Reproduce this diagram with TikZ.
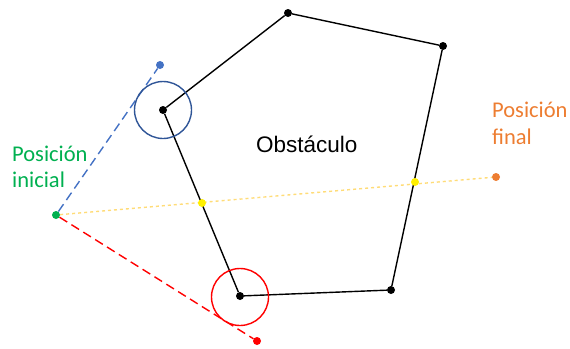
\documentclass[tikz,border=0pt]{standalone}
\usepackage{fontspec}
\setmainfont{Carlito}
\newfontfamily\arialish{Liberation Sans}
\definecolor{offgreen}{RGB}{0,176,80}
\definecolor{offorange}{RGB}{237,125,49}
\definecolor{offblue}{RGB}{68,114,196}
\definecolor{darkblue}{RGB}{47,85,151}
\definecolor{lightyellow}{RGB}{255,220,120}
\definecolor{ptyellow}{RGB}{255,240,0}
\begin{document}
\begin{tikzpicture}[x=1pt,y=-1pt,
  vtx/.style={circle,fill=black,inner sep=0pt,minimum size=8pt},
  dotpt/.style={circle,inner sep=0pt,minimum size=8pt},
  edge/.style={black,line width=1.4pt},
  lbl/.style={font=\fontsize{22.5}{26}\selectfont,anchor=base west,inner sep=0pt}]
\useasboundingbox (0,0) rectangle (570,348);
% vertices
\node[vtx] (A) at (163,110) {};
\node[vtx] (B) at (288,13) {};
\node[vtx] (C) at (443,46) {};
\node[vtx] (D) at (391,290) {};
\node[vtx] (E) at (240,296) {};
% other points
\node[dotpt,fill=offgreen] (S) at (56,215) {};
\node[dotpt,fill=offorange] (F) at (496,177) {};
\node[dotpt,fill=offblue] (P1) at (160,65) {};
\node[dotpt,fill=red] (P2) at (257,341) {};
% dashed lines
\draw[lightyellow,line width=1.4pt,dashed] (S) -- (F);
\draw[offblue,line width=1.4pt,dash pattern=on 9pt off 5pt] (S) -- (P1);
\draw[red,line width=1.4pt,dash pattern=on 9pt off 5pt] (S) -- (P2);
% polygon
\draw[edge] (A) -- (B) -- (C) -- (D) -- (E) -- (A);
% circles
\draw[darkblue,line width=1.4pt] (163,110) circle (28.5);
\draw[red,line width=1.4pt] (240,297) circle (28.5);
% intersections
\node[dotpt,fill=ptyellow] (I1) at (202,203) {};
\node[dotpt,fill=ptyellow] (I2) at (415,182) {};
% labels
\node[lbl,text=offgreen] (L1a) at (12,161) {Posición};
\node[lbl,text=offgreen] (L1b) at (12,187) {inicial};
\node[lbl,text=offorange] (L2a) at (492,117) {Posición};
\node[lbl,text=offorange] (L2b) at (492,144) {final};
\node[font=\arialish\fontsize{22.5}{26}\selectfont,anchor=base west,inner sep=0pt] (O) at (256,152) {Obstáculo};
\end{tikzpicture}
\end{document}
